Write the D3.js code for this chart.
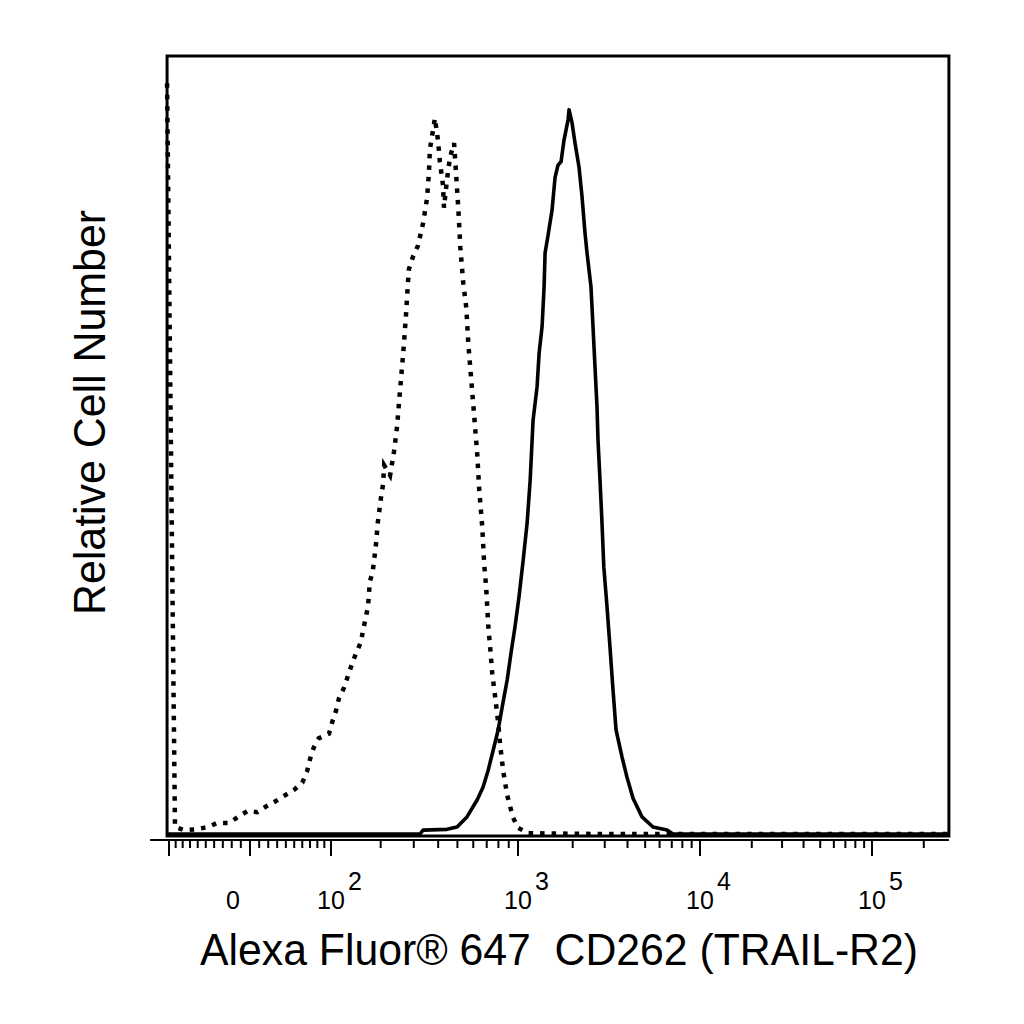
<!DOCTYPE html>
<html>
<head>
<meta charset="utf-8">
<script src="https://cdn.jsdelivr.net/npm/d3@7"></script>
<style>
	body { margin: 0; background: #fff; }
	text { font-family: "Liberation Sans", Arial, sans-serif; fill: #000; }
</style>
</head>
<body>
<svg id="chart" width="1024" height="1024"></svg>
<script>
// isotype control (dotted), fluorescence values and relative counts
const isoX = [-103, -91, -78, -62, -47, -37, -23, -13, -2, 8,
	17, 28, 38, 50, 60, 66, 70, 75, 82, 97,
	102, 108, 113, 122, 129, 137, 145, 155, 159, 165,
	170, 174, 181, 188, 193, 201, 206, 209, 225, 236,
	245, 254, 264, 273, 280, 283, 297, 315, 335, 351,
	359, 363, 385, 399, 408, 423, 428, 443, 459, 481,
	492, 506, 517, 535, 554, 567, 587, 607, 628, 643,
	665, 680, 696, 712, 729, 746, 772, 798, 817, 845,
	884, 915, 946, 1000, 1137, 2825, 280000];
const isoY = [96.5, 0.9, 0.5, 0.6, 0.9, 1.4, 1.4, 2.2, 3.0, 2.8,
	3.5, 4.2, 4.9, 5.7, 6.6, 8.0, 9.6, 11.1, 12.3, 12.9,
	14.4, 15.8, 17.4, 18.8, 20.3, 21.9, 23.3, 24.7, 26.2, 27.8,
	29.3, 32.4, 33.9, 37.0, 40.1, 43.3, 44.9, 47.4, 46.1, 49.1,
	52.3, 56.9, 61.7, 66.5, 71.0, 72.6, 74.2, 75.6, 78.5, 81.7,
	85.0, 88.0, 92.0, 89.2, 86.4, 83.4, 80.5, 84.1, 87.0, 88.8,
	85.0, 80.1, 75.4, 70.8, 67.6, 63.0, 58.2, 53.6, 48.8, 44.1,
	39.5, 34.7, 31.6, 26.9, 23.8, 20.6, 17.5, 14.3, 11.3, 8.1,
	5.0, 3.5, 2.1, 0.8, 0.1, 0, 0];

// CD262 stained (solid)
const stainX = [-103, 323, 335, 443, 498, 558, 628, 671, 712, 754,
	798, 835, 884, 924, 966, 1013, 1068, 1123, 1167, 1211,
	1274, 1307, 1357, 1392, 1410, 1465, 1540, 1600, 1662, 1726,
	1792, 1886, 1910, 1984, 2060, 2167, 2251, 2338, 2397, 2521,
	2586, 2652, 2720, 2755, 2825, 2897, 2965, 3087, 3206, 3331,
	3459, 3731, 3974, 4288, 4804, 5521, 6589, 7109, 280000];
const stainY = [0, 0, 0.5, 0.6, 0.9, 2.2, 4.4, 6.0, 8.2, 10.8,
	13.4, 16.3, 19.8, 23.3, 26.6, 30.5, 35.2, 40.0, 45.5, 53.2,
	57.5, 61.8, 65.2, 70.3, 74.7, 77.0, 80.2, 84.4, 86.0, 86.4,
	89.2, 91.8, 93.1, 91.4, 88.8, 85.7, 81.9, 77.2, 74.7, 70.3,
	65.2, 60.0, 54.9, 50.6, 45.5, 40.0, 34.3, 29.2, 24.0, 18.5,
	13.4, 9.9, 7.3, 4.6, 2.2, 0.9, 0.5, 0, 0];

// axis ticks
const majorTicks = [-100, 0, 100, 1e3, 1e4, 1e5];
const tickLabels = [
	{v: 0, base: "0", exp: ""},
	{v: 100, base: "10", exp: "2"},
	{v: 1e3, base: "10", exp: "3"},
	{v: 1e4, base: "10", exp: "4"},
	{v: 1e5, base: "10", exp: "5"}
];
const xTitle = "Alexa Fluor\u00AE 647  CD262 (TRAIL-R2)";
const yTitle = "Relative Cell Number";

const X_MIN = -103,
	  X_MAX = 280000;

let svg = d3.select("#chart");

// biexponential-like display: asinh transform, calibrated on decade marks
const asinhT = v => Math.asinh(v / 100);
let xT = d3.scaleLinear()
		.domain([0, 100, 1e3, 1e4, 1e5].map(asinhT))
		.range([250, 331, 518, 700, 872]);
let xPos = v => xT(asinhT(v));

let y = d3.scaleLinear().domain([0, 100]).range([834, 56]);

let plotLeft = xPos(X_MIN),
	plotRight = xPos(X_MAX),
	plotTop = y(100),
	plotBottom = 836,
	axisY = 840;

// minor ticks per decade
let minorTicks = [];
for (let m = 1; m <= 9; m ++) {
	minorTicks.push(-10 * m, 10 * m);
}
[100, 1e3, 1e4, 1e5].forEach(d => {
	for (let m = 2; m <= 9; m ++) {
		if (d * m <= X_MAX) minorTicks.push(d * m);
	}
});
minorTicks = minorTicks.filter(v => v >= X_MIN && majorTicks.indexOf(v) < 0);

let line = d3.line()
		.x(d => xPos(d[0]))
		.y(d => y(d[1]));

// curves
svg.append("path")
		.datum(d3.zip(isoX, isoY))
		.attr("d", line)
		.attr("fill", "none")
		.attr("stroke", "#000")
		.attr("stroke-width", 4.5)
		.attr("stroke-dasharray", "4.5 7");

svg.append("path")
		.datum(d3.zip(stainX, stainY))
		.attr("d", line)
		.attr("fill", "none")
		.attr("stroke", "#000")
		.attr("stroke-width", 3.6)
		.attr("stroke-linejoin", "round");

// frame
svg.append("rect")
		.attr("x", plotLeft)
		.attr("y", plotTop)
		.attr("width", plotRight - plotLeft)
		.attr("height", plotBottom - plotTop)
		.attr("fill", "none")
		.attr("stroke", "#000")
		.attr("stroke-width", 3);

// x axis line and ticks
svg.append("line")
		.attr("x1", 150).attr("x2", plotRight)
		.attr("y1", axisY).attr("y2", axisY)
		.attr("stroke", "#000")
		.attr("stroke-width", 2);

svg.selectAll(".major")
	.data(majorTicks)
	.join("line")
		.attr("class", "major")
		.attr("x1", d => xPos(d)).attr("x2", d => xPos(d))
		.attr("y1", axisY).attr("y2", axisY + 16)
		.attr("stroke", "#000")
		.attr("stroke-width", 2);

svg.selectAll(".minor")
	.data(minorTicks)
	.join("line")
		.attr("class", "minor")
		.attr("x1", d => xPos(d)).attr("x2", d => xPos(d))
		.attr("y1", axisY).attr("y2", axisY + 8)
		.attr("stroke", "#000")
		.attr("stroke-width", 2);

// tick labels
tickLabels.forEach(t => {
	let tx = xPos(t.v);
	if (t.exp == "") {
		svg.append("text")
			.attr("x", tx - 10)
			.attr("y", 909)
			.attr("text-anchor", "end")
			.style("font-size", "25px")
			.text(t.base);
		return;
	}
	svg.append("text")
		.attr("x", tx)
		.attr("y", 909)
		.attr("text-anchor", "middle")
		.style("font-size", "25px")
		.text(t.base);
	svg.append("text")
		.attr("x", tx + 17)
		.attr("y", 890)
		.attr("text-anchor", "start")
		.style("font-size", "25px")
		.text(t.exp);
});

// axis titles
svg.append("text")
		.attr("x", 200)
		.attr("y", 965)
		.attr("textLength", 718)
		.attr("lengthAdjust", "spacingAndGlyphs")
		.style("font-size", "44px")
		.style("white-space", "pre")
		.text(xTitle);

svg.append("text")
		.attr("transform", "translate(105,615) rotate(-90)")
		.attr("textLength", 405)
		.attr("lengthAdjust", "spacingAndGlyphs")
		.style("font-size", "44px")
		.text(yTitle);
</script>
</body>
</html>
